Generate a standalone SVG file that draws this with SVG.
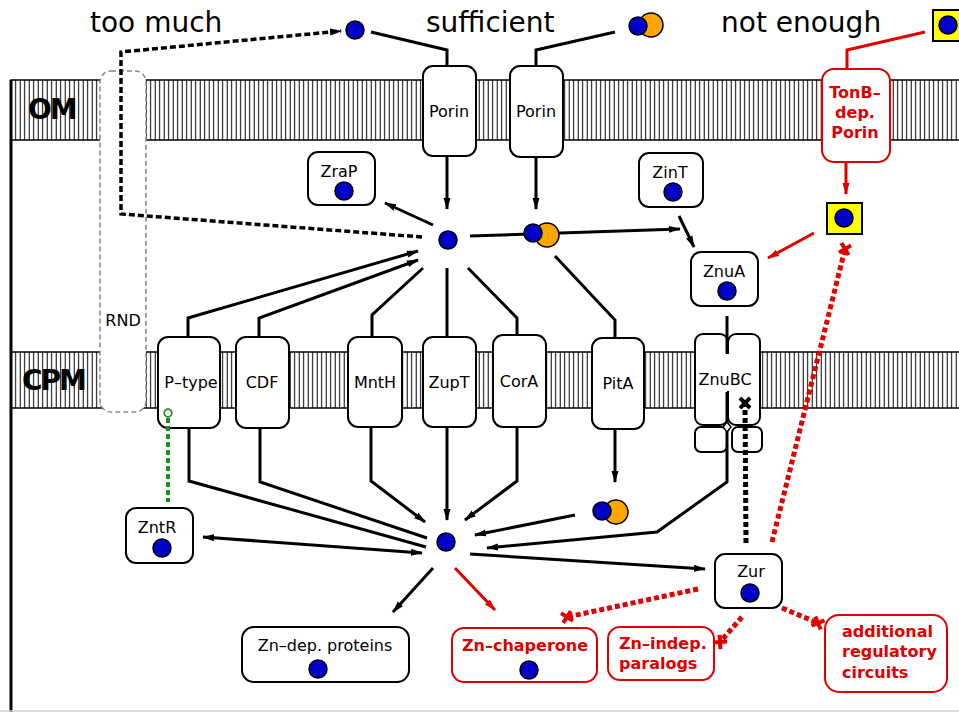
<svg xmlns="http://www.w3.org/2000/svg" width="959" height="712" viewBox="0 0 959 712">
<style>
.t{font-family:"DejaVu Sans",sans-serif;font-size:16px;fill:#000}
.rt{font-family:"DejaVu Sans",sans-serif;font-size:16px;font-weight:bold;fill:#e00000}
.big{font-family:"DejaVu Sans",sans-serif;font-size:28px;fill:#000}
.lbl{font-family:"DejaVu Sans",sans-serif;font-size:28px;font-weight:bold;letter-spacing:-2px;fill:#000}
.box{fill:#fff;stroke:#000;stroke-width:2}
.rbox{fill:#fff;stroke:#e00000;stroke-width:2}
.zn{fill:#0000c8;stroke:#000;stroke-width:1.5}
.or{fill:#ffa500;stroke:#000;stroke-width:1.5}
.ln{fill:none;stroke:#000;stroke-width:3}
.rln{fill:none;stroke:#e00000;stroke-width:3}
.a{marker-end:url(#ah)}
.ra{marker-end:url(#rah)}
.rd{fill:none;stroke:#e00000;stroke-width:5;stroke-dasharray:5 3;marker-end:url(#rx)}
.band{fill:url(#hatch);stroke:#000;stroke-width:1.5}
</style>
<defs>
<pattern id="hatch" patternUnits="userSpaceOnUse" width="4.5" height="10">
<rect width="4.5" height="10" fill="#fff"/>
<line x1="2.2" y1="0" x2="2.2" y2="10" stroke="#000" stroke-width="1"/>
</pattern>
<marker id="ah" markerUnits="userSpaceOnUse" markerWidth="13" markerHeight="8" refX="11" refY="4" orient="auto-start-reverse">
<path d="M0,0.5 L12,4 L0,7.5 z" fill="#000"/>
</marker>
<marker id="rah" markerUnits="userSpaceOnUse" markerWidth="13" markerHeight="8" refX="11" refY="4" orient="auto">
<path d="M0,0.5 L12,4 L0,7.5 z" fill="#e00000"/>
</marker>
<marker id="rx" markerUnits="userSpaceOnUse" markerWidth="16" markerHeight="16" refX="8" refY="8" orient="auto">
<path d="M3,3 L13,13 M13,3 L3,13" stroke="#e00000" stroke-width="4" fill="none"/>
</marker>
<marker id="bx" markerUnits="userSpaceOnUse" markerWidth="16" markerHeight="16" refX="8" refY="8" orient="auto">
<path d="M3,3 L13,13 M13,3 L3,13" stroke="#000" stroke-width="4" fill="none"/>
</marker>
</defs>

<rect width="959" height="712" fill="#fff"/>

<!-- membranes -->
<g id="membranes">
<rect class="band" x="11" y="80" width="950" height="60"/>
<rect class="band" x="11" y="352" width="950" height="56"/>
<line x1="11" y1="80" x2="11" y2="712" stroke="#000" stroke-width="3"/>
<line x1="0" y1="711" x2="959" y2="711" stroke="#d0d0d0" stroke-width="1.5"/>
<text class="lbl" x="28" y="119">OM</text>
<text class="lbl" x="22" y="390">CPM</text>
</g>

<!-- header labels -->
<text class="big" x="90" y="32">too much</text>
<text class="big" x="426" y="32">sufficient</text>
<text class="big" x="721" y="32">not enough</text>

<!-- boxes -->
<g id="RND"><rect x="100" y="71" width="46" height="341" rx="11" fill="#fff" stroke="#888" stroke-width="1.5" stroke-dasharray="5 3"/><text class="t" x="123" y="326" text-anchor="middle">RND</text></g>
<g id="Porin1"><rect class="box" x="423" y="66" width="53" height="90" rx="10"/><text class="t" x="449" y="117" text-anchor="middle">Porin</text></g>
<g id="Porin2"><rect class="box" x="510" y="66" width="53" height="91" rx="10"/><text class="t" x="536" y="117" text-anchor="middle">Porin</text></g>
<g id="TonB"><rect class="rbox" x="822" y="69" width="68" height="93" rx="12"/>
<text class="rt" x="855" y="98" text-anchor="middle">TonB–</text>
<text class="rt" x="855" y="118" text-anchor="middle">dep.</text>
<text class="rt" x="855" y="138" text-anchor="middle">Porin</text></g>
<g id="ZraP"><rect class="box" x="308" y="152" width="67" height="53" rx="10"/><text class="t" x="339" y="177" text-anchor="middle">ZraP</text><circle class="zn" cx="344" cy="191" r="9"/></g>
<g id="ZinT"><rect class="box" x="639" y="153" width="64" height="54" rx="10"/><text class="t" x="670" y="178" text-anchor="middle">ZinT</text><circle class="zn" cx="673" cy="192" r="9"/></g>
<g id="ZnuA"><rect class="box" x="691" y="252" width="67" height="54" rx="10"/><text class="t" x="724" y="277" text-anchor="middle">ZnuA</text><circle class="zn" cx="727" cy="291" r="9"/></g>
<g id="Ptype"><rect class="box" x="158" y="337" width="62" height="91" rx="10"/><text class="t" x="191" y="388" text-anchor="middle">P–type</text></g>
<g id="CDF"><rect class="box" x="236" y="337" width="53" height="91" rx="10"/><text class="t" x="262" y="388" text-anchor="middle">CDF</text></g>
<g id="MntH"><rect class="box" x="348" y="337" width="54" height="90" rx="10"/><text class="t" x="375" y="388" text-anchor="middle">MntH</text></g>
<g id="ZupT"><rect class="box" x="423" y="337" width="53" height="90" rx="10"/><text class="t" x="449" y="388" text-anchor="middle">ZupT</text></g>
<g id="CorA"><rect class="box" x="493" y="335" width="53" height="92" rx="10"/><text class="t" x="519" y="387" text-anchor="middle">CorA</text></g>
<g id="PitA"><rect class="box" x="592" y="338" width="52" height="91" rx="10"/><text class="t" x="618" y="389" text-anchor="middle">PitA</text></g>
<g id="ZnuBC">
<rect class="box" x="695" y="334" width="33" height="91" rx="8"/>
<rect class="box" x="728" y="334" width="32" height="91" rx="8"/>
<rect class="box" x="695" y="427" width="32" height="25" rx="6"/>
<rect class="box" x="732" y="427" width="30" height="25" rx="6"/>
<rect x="721" y="354" width="13" height="37" fill="#fff"/>
<text class="t" x="725" y="385" text-anchor="middle">ZnuBC</text>
</g>
<g id="ZntR"><rect class="box" x="126" y="508" width="67" height="55" rx="10"/><text class="t" x="157" y="533" text-anchor="middle">ZntR</text><circle class="zn" cx="162" cy="548" r="9"/></g>
<g id="Zur"><rect class="box" x="715" y="554" width="67" height="54" rx="10"/><text class="t" x="751" y="577" text-anchor="middle">Zur</text><circle class="zn" cx="750" cy="593" r="9"/></g>
<g id="ZnDep"><rect class="box" x="242" y="627" width="167" height="55" rx="12"/><text class="t" x="325" y="651" text-anchor="middle">Zn–dep. proteins</text><circle class="zn" cx="318" cy="669" r="9"/></g>
<g id="ZnChap"><rect class="rbox" x="452" y="628" width="145" height="54" rx="12"/><text class="rt" x="525" y="651" text-anchor="middle">Zn–chaperone</text><circle class="zn" cx="529" cy="670" r="9"/></g>
<g id="ZnIndep"><rect class="rbox" x="608" y="627" width="106" height="53" rx="12"/><text class="rt" x="619" y="649">Zn–indep.</text><text class="rt" x="619" y="669">paralogs</text></g>
<g id="AddReg"><rect class="rbox" x="825" y="615" width="122" height="77" rx="14"/><text class="rt" x="842" y="637">additional</text><text class="rt" x="842" y="657">regulatory</text><text class="rt" x="842" y="678">circuits</text></g>

<!-- connectors -->
<g id="connectors">
<path class="ln" d="M371,32 L447,50 L447,67"/>
<path class="ln a" d="M447,156 L447,209"/>
<path class="ln" d="M615,32 L536,50 L536,67"/>
<path class="ln a" d="M536,157 L536,209"/>
<path class="rln" d="M925,32 L847,50 L847,70"/>
<path class="rln ra" d="M846,162 L846,194"/>
<path class="ln a" d="M433,225 L385,203"/>
<path d="M422,237 L121,214 L121,52 L341,31" fill="none" stroke="#000" stroke-width="3.5" stroke-dasharray="6 3" marker-end="url(#ah)"/>
<path class="ln a" d="M470,236 L680,229"/>
<path class="ln a" d="M679,216 L694,247"/>
<path class="rln ra" d="M814,233 L768,258"/>
<path class="ln" d="M727,316 L727,354"/>
<path class="ln a" d="M727,392 L727,482 L657,532 L487,548"/>
<path d="M727,422 L731,427 L727,432 L723,427 z" fill="#fff" stroke="#000" stroke-width="1.5"/>
<path class="ln a" d="M188,337 L188,318 L418,251"/>
<path class="ln" d="M189,428 L189,481 L426,547"/>
<path class="ln a" d="M259,337 L259,318 L418,260"/>
<path class="ln" d="M260,428 L260,482 L427,538"/>
<path class="ln" d="M423,268 L372,315 L372,337"/>
<path class="ln a" d="M371,427 L371,481 L425,522"/>
<path class="ln" d="M447,268 L447,337"/>
<path class="ln a" d="M447,427 L447,520"/>
<path class="ln" d="M468,268 L517,318 L517,335"/>
<path class="ln a" d="M517,427 L517,481 L465,520"/>
<path class="ln" d="M555,256 L615,320 L615,338"/>
<path class="ln a" d="M615,429 L615,482"/>
<path class="ln a" d="M575,515 L475,535"/>
<path class="ln" d="M422,553 L203,537" marker-start="url(#ah)" marker-end="url(#ah)"/>
<path class="ln a" d="M470,554 L705,569"/>
<path class="ln a" d="M433,568 L393,612"/>
<path class="rln ra" d="M455,568 L495,610"/>
<path class="rd" d="M698,589 L567,617"/>
<path class="rd" d="M742,617 L720,642"/>
<path class="rd" d="M782,608 L818,623"/>
<path class="rd" d="M772,542 L845,249"/>
<path d="M746,543 L745,403" fill="none" stroke="#000" stroke-width="5" stroke-dasharray="5 3" marker-end="url(#bx)"/>
<path d="M168,418 L168,502" fill="none" stroke="#1e8c1e" stroke-width="4" stroke-dasharray="5 3"/>
<circle cx="168" cy="413" r="3.8" fill="#fff" stroke="#1e8c1e" stroke-width="1.8"/>
</g>

<!-- ions -->
<g id="ZnTop"><circle class="zn" cx="355" cy="30" r="9"/></g>
<g id="PairTop"><circle class="or" cx="651" cy="25" r="12"/><circle class="zn" cx="638" cy="26" r="9"/></g>
<g id="SqTop"><rect x="933" y="10" width="32" height="31" fill="#ffff00" stroke="#000" stroke-width="2"/><circle class="zn" cx="948" cy="25" r="9"/></g>
<g id="ZnPeri"><circle class="zn" cx="448" cy="240" r="9"/></g>
<g id="PairPeri"><circle class="or" cx="547" cy="235" r="12"/><circle class="zn" cx="533" cy="233" r="9"/></g>
<g id="SqPeri"><rect x="827" y="203" width="35" height="31" fill="#ffff00" stroke="#000" stroke-width="2"/><circle class="zn" cx="844" cy="218" r="9"/></g>
<g id="PairCyto"><circle class="or" cx="616" cy="512" r="12"/><circle class="zn" cx="602" cy="511" r="9"/></g>
<g id="ZnCyto"><circle class="zn" cx="446" cy="542" r="9"/></g>
</svg>
